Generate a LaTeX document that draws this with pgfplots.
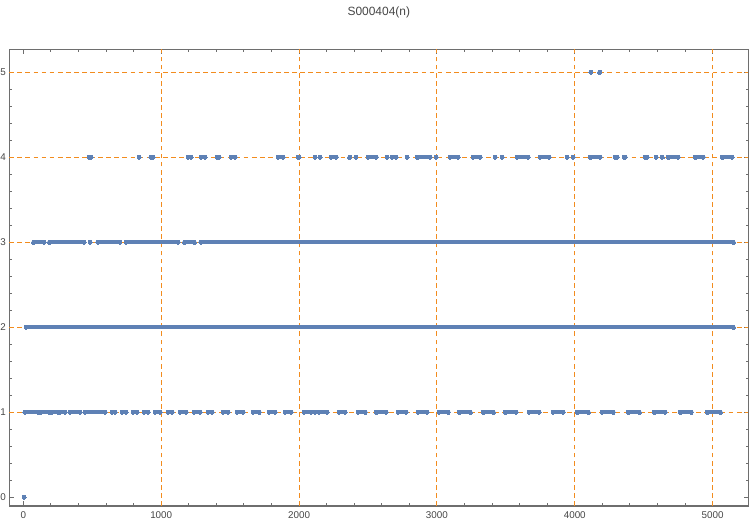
\documentclass[border=0pt]{standalone}
\usepackage{fontspec}
\setmainfont{Liberation Sans}
\usepackage{pgfplots}
\pgfplotsset{compat=1.18}
\usetikzlibrary{calc}

\definecolor{ptblue}{RGB}{94,129,181}
\definecolor{gridorange}{RGB}{242,140,30}
\definecolor{framegray}{RGB}{110,110,110}
\definecolor{labelgray}{RGB}{70,70,70}

\pgfplotsset{pts/.style={draw=ptblue, fill=ptblue, line width=2.3pt, line cap=round,
        mark=*, mark size=1.15pt, mark options={solid, draw=ptblue, fill=ptblue, line width=0pt}}}

\begin{document}
\begin{tikzpicture}
\begin{axis}[
    name=ax,
    scale only axis,
    width=14.78cm, height=9.134cm,
    xmin=-102, xmax=5259,
    ymin=-0.102, ymax=5.27,
    xtick={0,1000,2000,3000,4000,5000},
    ytick={0,1,2,3,4,5},
    minor x tick num=4,
    minor y tick num=4,
    major tick length=0.09cm,
    minor tick length=0.05cm,
    tick align=inside,
    tick style={draw=framegray, line width=0.5pt},
    axis line style={draw=framegray, line width=0.6pt},
    scaled x ticks=false,
    xticklabel style={inner sep=0pt, yshift=-0.11cm, font=\fontsize{5.6}{6}\selectfont, text=labelgray},
    yticklabel style={inner sep=0pt, xshift=-0.06cm, font=\fontsize{5.6}{6}\selectfont, text=labelgray},
    /pgf/number format/assume math mode=true,
    /pgf/number format/set thousands separator={},
    extra x ticks={1000,2000,3000,4000,5000},
    extra y ticks={1,2,3,4,5},
    extra x tick labels={},
    extra y tick labels={},
    extra tick style={grid=major, major tick length=0pt},
    major grid style={draw=gridorange, dash pattern=on 2.7pt off 1.9pt, line width=0.6pt},
    title={S000404(n)},
    title style={at={(0.5,1)}, anchor=center, yshift=0.52cm, font=\fontsize{6.8}{8}\selectfont, text=labelgray},
    unbounded coords=jump,
]
% level 0
\addplot[pts] coordinates {(5,0)};
% level 1
\addplot[pts] coordinates {
(12,1) (110,1) (nan,nan) (125,1) (190,1) (nan,nan) (205,1) (250,1) (nan,nan) (265,1) (303,1) (nan,nan)
(339,1) (411,1) (nan,nan) (448,1) (593,1) (nan,nan) (644,1) (665,1) (nan,nan) (716,1) (745,1) (nan,nan)
(796,1) (825,1) (nan,nan) (876,1) (905,1) (nan,nan) (956,1) (992,1) (nan,nan) (1050,1) (1079,1) (nan,nan)
(1137,1) (1181,1) (nan,nan) (1239,1) (1282,1) (nan,nan) (1340,1) (1369,1) (nan,nan) (1449,1) (1485,1) (nan,nan)
(1551,1) (1594,1) (nan,nan) (1667,1) (1711,1) (nan,nan) (1783,1) (1826,1) (nan,nan) (1899,1) (1943,1) (nan,nan)
(2037,1) (2088,1) (nan,nan) (2117,1) (nan,nan) (2146,1) (2204,1) (nan,nan) (2291,1) (2334,1) (nan,nan)
(2429,1) (2480,1) (nan,nan) (2560,1) (2632,1) (nan,nan) (2719,1) (2777,1) (nan,nan) (2864,1) (2929,1) (nan,nan)
(3016,1) (3082,1) (nan,nan) (3162,1) (3242,1) (nan,nan) (3336,1) (3409,1) (nan,nan) (3496,1) (3575,1) (nan,nan)
(3669,1) (3742,1) (nan,nan) (3843,1) (3916,1) (nan,nan) (4018,1) (4098,1) (nan,nan) (4199,1) (4279,1) (nan,nan)
(4388,1) (4468,1) (nan,nan) (4577,1) (4656,1) (nan,nan) (4765,1) (4845,1) (nan,nan) (4961,1) (5056,1)
};
% level 2
\addplot[pts] coordinates {(20,2) (5150,2)};
% level 3
\addplot[pts] coordinates {
(75,3) (150,3) (nan,nan) (190,3) (440,3) (nan,nan) (484,3) (nan,nan) (540,3) (700,3) (nan,nan)
(745,3) (1123,3) (nan,nan) (1170,3) (1240,3) (nan,nan) (1287,3) (5150,3)
};
% level 4
\addplot[pts] coordinates {
(478,4) (491,4) (nan,nan) (840,4) (nan,nan) (926,4) (941,4) (nan,nan) (1196,4) (1216,4) (nan,nan)
(1290,4) (1318,4) (nan,nan) (1405,4) (1420,4) (nan,nan) (1508,4) (1536,4) (nan,nan) (1848,4) (1884,4) (nan,nan)
(1994,4) (2000,4) (nan,nan) (2117,4) (nan,nan) (2153,4) (nan,nan) (2232,4) (2270,4) (nan,nan)
(2367,4) (nan,nan) (2411,4) (nan,nan) (2502,4) (2560,4) (nan,nan) (2639,4) (nan,nan) (2676,4) (nan,nan)
(2704,4) (nan,nan) (2784,4) (nan,nan) (2858,4) (2951,4) (nan,nan) (2994,4) (nan,nan) (3097,4) (3154,4) (nan,nan)
(3264,4) (3314,4) (nan,nan) (3423,4) (nan,nan) (3474,4) (nan,nan) (3583,4) (3662,4) (nan,nan)
(3750,4) (3814,4) (nan,nan) (3945,4) (nan,nan) (3989,4) (nan,nan) (4113,4) (4184,4) (nan,nan)
(4294,4) (4308,4) (nan,nan) (4360,4) (4366,4) (nan,nan) (4512,4) (4525,4) (nan,nan) (4591,4) (nan,nan)
(4635,4) (nan,nan) (4679,4) (4750,4) (nan,nan) (4875,4) (4932,4) (nan,nan) (5071,4) (5142,4)
};
% level 5
\addplot[pts] coordinates {(4117,5) (nan,nan) (4180,5)};
\end{axis}
\pgfresetboundingbox
\path[use as bounding box] ($(ax.south west)+(-0.186cm,-0.36cm)$) rectangle ($(ax.north east)+(0.034cm,0.986cm)$);
\end{tikzpicture}
\end{document}
